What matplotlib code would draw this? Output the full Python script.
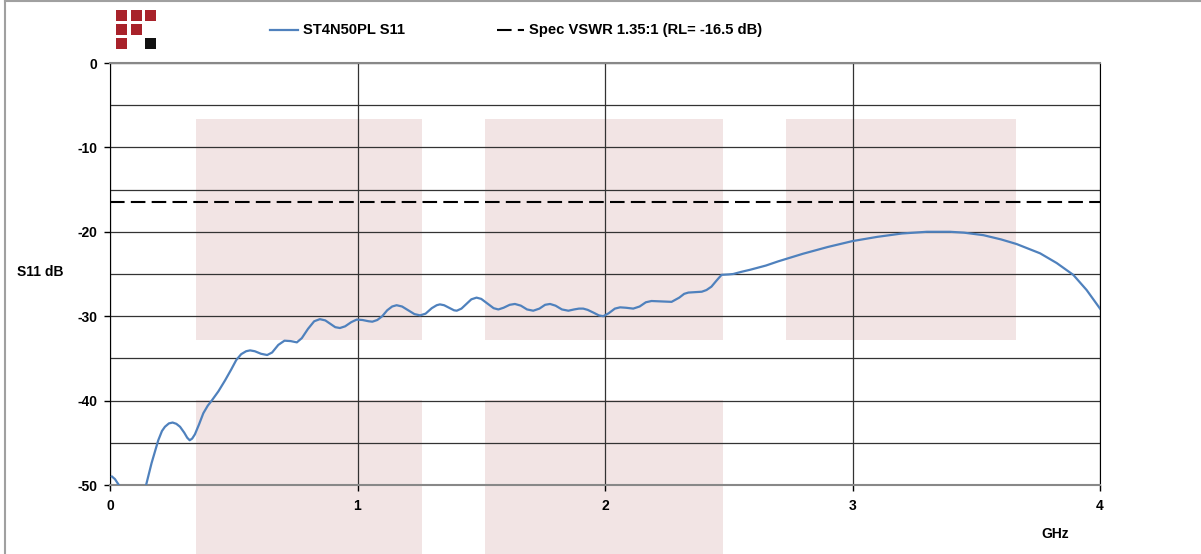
import matplotlib
matplotlib.use('Agg')
import matplotlib.pyplot as plt
from matplotlib.patches import Rectangle
from matplotlib.lines import Line2D

plt.rcParams['font.family'] = ['Liberation Sans', 'DejaVu Sans']
plt.rcParams['font.weight'] = 'bold'
plt.rcParams['axes.unicode_minus'] = False

# S11 trace (GHz, dB)
freq = [0.008, 0.02, 0.038, 0.09, 0.145, 0.168, 0.195, 0.21, 0.222, 0.238, 0.253, 0.268,
        0.283, 0.30, 0.312, 0.322, 0.332, 0.343, 0.36, 0.377, 0.395, 0.411, 0.438, 0.465,
        0.49, 0.51, 0.53, 0.55, 0.566, 0.585, 0.61, 0.635, 0.655, 0.68, 0.705, 0.73,
        0.755, 0.775, 0.80, 0.825, 0.848, 0.87, 0.89, 0.91, 0.929, 0.95, 0.975, 0.997,
        1.02, 1.045, 1.06, 1.08, 1.10, 1.12, 1.14, 1.158, 1.18, 1.205, 1.23, 1.253,
        1.275, 1.30, 1.32, 1.333, 1.35, 1.37, 1.39, 1.401, 1.42, 1.44, 1.46, 1.481,
        1.50, 1.525, 1.55, 1.569, 1.59, 1.615, 1.636, 1.66, 1.685, 1.71, 1.735, 1.758,
        1.778, 1.80, 1.826, 1.852, 1.875, 1.895, 1.912, 1.93, 1.955, 1.975, 1.993, 2.015,
        2.04, 2.061, 2.085, 2.114, 2.14, 2.165, 2.188, 2.23, 2.269, 2.30, 2.32, 2.337,
        2.365, 2.391, 2.41, 2.43, 2.45, 2.471, 2.50, 2.518, 2.55, 2.586, 2.65, 2.7,
        2.8, 2.9, 3.0, 3.1, 3.2, 3.3, 3.394, 3.45, 3.529, 3.6, 3.663, 3.758, 3.825,
        3.892, 3.946, 4.0]
s11 = [-49.0, -49.3, -50.1, -53.0, -50.1, -47.4, -44.7, -43.6, -43.1, -42.7, -42.6, -42.75,
       -43.1, -43.8, -44.4, -44.7, -44.5, -44.0, -42.8, -41.5, -40.6, -40.0, -38.9, -37.6,
       -36.3, -35.2, -34.5, -34.15, -34.05, -34.15, -34.45, -34.6, -34.3, -33.4, -32.9, -32.95,
       -33.1, -32.6, -31.5, -30.6, -30.35, -30.5, -30.9, -31.3, -31.4, -31.2, -30.7, -30.4,
       -30.45, -30.6, -30.65, -30.45, -30.0, -29.3, -28.85, -28.7, -28.85, -29.3, -29.75, -29.9,
       -29.7, -29.05, -28.7, -28.6, -28.7, -29.0, -29.3, -29.35, -29.1, -28.55, -28.0, -27.8,
       -27.95, -28.5, -29.05, -29.2, -29.0, -28.65, -28.55, -28.75, -29.2, -29.35, -29.1, -28.65,
       -28.55, -28.75, -29.2, -29.35, -29.2, -29.1, -29.1, -29.25, -29.6, -29.9, -30.0, -29.65,
       -29.1, -28.95, -29.0, -29.1, -28.85, -28.35, -28.2, -28.25, -28.3, -27.8, -27.35, -27.2,
       -27.15, -27.1, -26.9, -26.5, -25.8, -25.1, -25.05, -25.0, -24.75, -24.5, -24.0, -23.5,
       -22.6, -21.8, -21.1, -20.6, -20.2, -20.0, -20.0, -20.1, -20.4, -20.9, -21.45, -22.55, -23.7,
       -25.1, -26.9, -29.1]
spec_rl = -16.5

# shaded background blocks (x0, x1, y0, y1)
blocks = [(0.347, 1.261, -32.8, -6.6), (1.515, 2.477, -32.8, -6.6), (2.731, 3.661, -32.8, -6.6),
          (0.347, 1.261, -62, -39.9), (1.515, 2.477, -62, -39.9)]

W, H = 1201, 554
fig = plt.figure(figsize=(W / 100, H / 100), dpi=100)
ax = fig.add_axes([110 / W, 1 - 485 / H, 990 / W, 422 / H])

def fx(px):
    return px / W

def fy(py):
    return 1 - py / H

for x0, x1, y0, y1 in blocks:
    ax.add_patch(Rectangle((x0, y0), x1 - x0, y1 - y0, facecolor='#f2e4e4',
                           edgecolor='none', zorder=0.2, clip_on=False))

ax.plot(freq, s11, color='#4f81bd', lw=1.6, zorder=3)
ax.axhline(spec_rl, color='black', lw=1.5, dashes=(7, 3), zorder=3)

ax.set_xlim(0, 4)
ax.set_ylim(-50, 0)
ax.set_xticks([0, 1, 2, 3, 4])
ax.set_yticks([0, -10, -20, -30, -40, -50])
ax.set_yticks([-5, -15, -25, -35, -45], minor=True)
ax.set_axisbelow(True)
ax.grid(True, which='both', axis='y', color='#333333', lw=0.9)
ax.grid(True, which='major', axis='x', color='#333333', lw=0.9)
ax.tick_params(axis='y', which='minor', length=0)
ax.tick_params(axis='both', which='major', length=4, width=1, color='black',
               labelsize=10, pad=5)
ax.tick_params(axis='x', pad=6)
for lab in ax.get_xticklabels() + ax.get_yticklabels():
    lab.set_fontweight('bold')
ax.spines['left'].set_color('black')
ax.spines['right'].set_color('black')
ax.spines['top'].set_color('#888888')
ax.spines['bottom'].set_color('#888888')
ax.spines['top'].set_linewidth(1.5)
ax.spines['bottom'].set_linewidth(1.5)

fig.text(fx(17), fy(272), 'S11 dB', fontsize=10, fontweight='bold', va='center', ha='left')
fig.text(fx(1055), fy(534), 'GHz', fontsize=10, fontweight='bold', ha='center', va='center')

# legend
fig.add_artist(Line2D([fx(270), fx(298)], [fy(30), fy(30)], color='#4f81bd', lw=1.6))
fig.text(fx(303), fy(30), 'ST4N50PL S11', fontsize=10.6, fontweight='bold', va='center')
fig.add_artist(Line2D([fx(497), fx(524)], [fy(30), fy(30)], color='black', lw=1.5,
                      dashes=(7, 3)))
fig.text(fx(529), fy(30), 'Spec VSWR 1.35:1 (RL= -16.5 dB)', fontsize=10.6,
         fontweight='bold', va='center')

# logo
logo = [(0, 0, '#a8222a'), (1, 0, '#a8222a'), (2, 0, '#a8222a'),
        (0, 1, '#a8222a'), (1, 1, '#a8222a'),
        (0, 2, '#a8222a'), (2, 2, '#111111')]
for c, r, col in logo:
    x0 = 116 + c * 14.5
    y0 = 10 + r * 14
    fig.add_artist(Rectangle((fx(x0), fy(y0 + 11)), 11 / W, 11 / H,
                             facecolor=col, edgecolor='none'))

# outer border (top and left)
fig.add_artist(Line2D([fx(5), fx(1201)], [fy(0.8), fy(0.8)], color='#a0a0a0', lw=1.5))
fig.add_artist(Line2D([fx(5.3), fx(5.3)], [fy(0), fy(554)], color='#a0a0a0', lw=1.5))

fig.savefig('out.png', dpi=100)
